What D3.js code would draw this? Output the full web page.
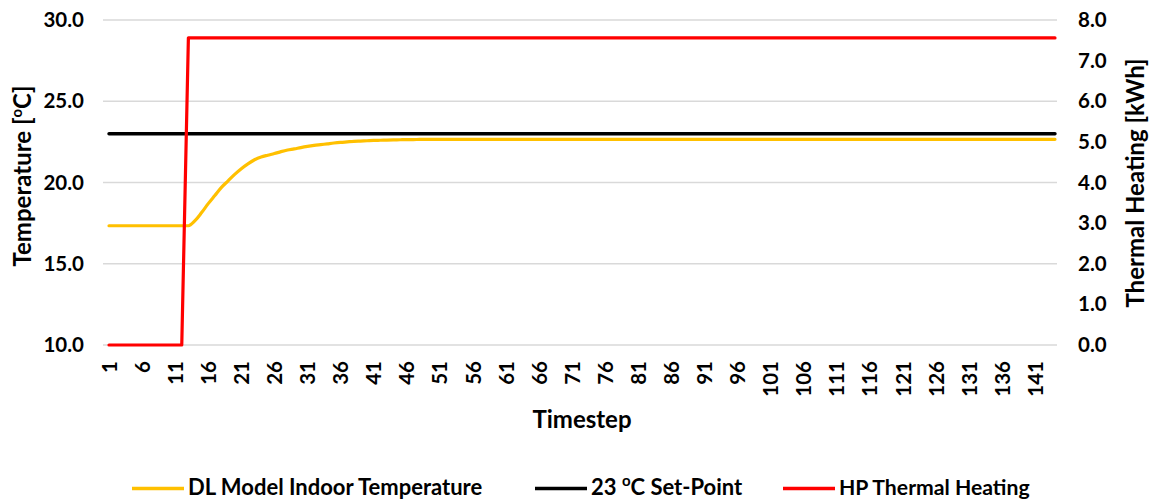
<!DOCTYPE html>
<html><head><meta charset="utf-8">
<script src="https://cdn.jsdelivr.net/npm/d3@7"></script>
<style>
html,body{margin:0;padding:0;background:#fff;}
text{font-family:Lato,"Open Sans",sans-serif;font-weight:bold;fill:#000;}
</style></head><body>
<svg id="chart" width="1151" height="499"></svg>
<script>
const categories = d3.range(1, 145);
const xTickLabels = [1,6,11,16,21,26,31,36,41,46,51,56,61,66,71,76,81,86,91,96,101,106,111,116,121,126,131,136,141];
const leftTicks = [10,15,20,25,30];
const rightTicks = [0,1,2,3,4,5,6,7,8];
const seriesNames = ["DL Model Indoor Temperature","23 oC Set-Point","HP Thermal Heating"];

const indoorTemp = [
 17.34,17.34,17.34,17.34,17.34,17.34,17.34,17.34,17.34,17.34,
 17.34,17.34,17.34,17.65,18.15,18.7,19.2,19.7,20.1,20.5,
 20.85,21.15,21.4,21.57,21.68,21.78,21.9,22.0,22.07,22.15,
 22.22,22.28,22.33,22.38,22.43,22.47,22.5,22.53,22.55,22.57,
 22.59,22.6,22.61,22.62,22.63,22.64,22.64,22.65,22.65,22.66,
 22.66,22.66,22.66,22.66,22.66,22.66,22.66,22.66,22.66,22.66,
 22.66,22.66,22.66,22.66,22.66,22.66,22.66,22.66,22.66,22.66,
 22.66,22.66,22.66,22.66,22.66,22.66,22.66,22.66,22.66,22.66,
 22.66,22.66,22.66,22.66,22.66,22.66,22.66,22.66,22.66,22.66,
 22.66,22.66,22.66,22.66,22.66,22.66,22.66,22.66,22.66,22.66,
 22.66,22.66,22.66,22.66,22.66,22.66,22.66,22.66,22.66,22.66,
 22.66,22.66,22.66,22.66,22.66,22.66,22.66,22.66,22.66,22.66,
 22.66,22.66,22.66,22.66,22.66,22.66,22.66,22.66,22.66,22.66,
 22.66,22.66,22.66,22.66,22.66,22.66,22.66,22.66,22.66,22.66,
 22.66,22.66,22.66,22.66
];
const setPoint = [
 23,23,23,23,23,23,23,23,23,23, 23,23,23,23,23,23,23,23,23,23,
 23,23,23,23,23,23,23,23,23,23, 23,23,23,23,23,23,23,23,23,23,
 23,23,23,23,23,23,23,23,23,23, 23,23,23,23,23,23,23,23,23,23,
 23,23,23,23,23,23,23,23,23,23, 23,23,23,23,23,23,23,23,23,23,
 23,23,23,23,23,23,23,23,23,23, 23,23,23,23,23,23,23,23,23,23,
 23,23,23,23,23,23,23,23,23,23, 23,23,23,23,23,23,23,23,23,23,
 23,23,23,23,23,23,23,23,23,23, 23,23,23,23,23,23,23,23,23,23,
 23,23,23,23
];
const hpHeating = [
 0,0,0,0,0,0,0,0,0,0, 0,0,7.56,7.56,7.56,7.56,7.56,7.56,7.56,7.56,
 7.56,7.56,7.56,7.56,7.56,7.56,7.56,7.56,7.56,7.56, 7.56,7.56,7.56,7.56,7.56,7.56,7.56,7.56,7.56,7.56,
 7.56,7.56,7.56,7.56,7.56,7.56,7.56,7.56,7.56,7.56, 7.56,7.56,7.56,7.56,7.56,7.56,7.56,7.56,7.56,7.56,
 7.56,7.56,7.56,7.56,7.56,7.56,7.56,7.56,7.56,7.56, 7.56,7.56,7.56,7.56,7.56,7.56,7.56,7.56,7.56,7.56,
 7.56,7.56,7.56,7.56,7.56,7.56,7.56,7.56,7.56,7.56, 7.56,7.56,7.56,7.56,7.56,7.56,7.56,7.56,7.56,7.56,
 7.56,7.56,7.56,7.56,7.56,7.56,7.56,7.56,7.56,7.56, 7.56,7.56,7.56,7.56,7.56,7.56,7.56,7.56,7.56,7.56,
 7.56,7.56,7.56,7.56,7.56,7.56,7.56,7.56,7.56,7.56, 7.56,7.56,7.56,7.56,7.56,7.56,7.56,7.56,7.56,7.56,
 7.56,7.56,7.56,7.56
];

const svg = d3.select("#chart");
const x = d3.scaleLinear().domain([1,144]).range([109,1055]);
const yL = d3.scaleLinear().domain([10,30]).range([345,20]);
const yR = d3.scaleLinear().domain([0,8]).range([345,20]);
const tickFont = 20.5;

// gridlines
svg.append("g").selectAll("line").data(leftTicks).join("line")
  .attr("x1",103).attr("x2",1057)
  .attr("y1",d=>yL(d)).attr("y2",d=>yL(d))
  .attr("stroke","#d9d9d9").attr("stroke-width",1.3);

// left axis
const axL = svg.append("g").attr("transform","translate(84,0)")
  .call(d3.axisLeft(yL).tickValues(leftTicks).tickFormat(d3.format(".1f")).tickSize(0).tickPadding(0));
axL.select(".domain").remove();
axL.selectAll("text").attr("font-size",tickFont).attr("font-family","Lato").attr("font-weight","bold").attr("fill","#000");

// right axis
const axR = svg.append("g").attr("transform","translate(1078,0)")
  .call(d3.axisRight(yR).tickValues(rightTicks).tickFormat(d3.format(".1f")).tickSize(0).tickPadding(0));
axR.select(".domain").remove();
axR.selectAll("text").attr("font-size",tickFont).attr("font-family","Lato").attr("font-weight","bold").attr("fill","#000");

// x axis labels
const axX = svg.append("g").attr("transform","translate(0,361)")
  .call(d3.axisBottom(x).tickValues(xTickLabels).tickFormat(d=>d).tickSize(0).tickPadding(0));
axX.select(".domain").remove();
axX.selectAll("text")
  .attr("font-size",tickFont).attr("font-family","Lato").attr("font-weight","bold").attr("fill","#000")
  .attr("text-anchor","end").attr("transform","rotate(-90)")
  .attr("x",0).attr("y",0).attr("dy","0.35em");

// lines
const lineL = d3.line().x((d,i)=>x(categories[i])).y(d=>yL(d));
const lineLs = d3.line().x((d,i)=>x(categories[i])).y(d=>yL(d)).curve(d3.curveMonotoneX);
const lineR = d3.line().x((d,i)=>x(categories[i])).y(d=>yR(d));

svg.append("path").datum(indoorTemp).attr("d",lineLs)
  .attr("fill","none").attr("stroke","#FFC000").attr("stroke-width",3.2).attr("stroke-linecap","round").attr("stroke-linejoin","round");
svg.append("path").datum(setPoint).attr("d",lineL)
  .attr("fill","none").attr("stroke","#000").attr("stroke-width",3.4).attr("stroke-linecap","round");
svg.append("path").datum(hpHeating).attr("d",lineR)
  .attr("fill","none").attr("stroke","#FF0000").attr("stroke-width",3.2).attr("stroke-linecap","round").attr("stroke-linejoin","round");

// axis titles
svg.append("text").attr("x",582).attr("y",428).attr("text-anchor","middle")
  .attr("font-size",24).text("Timestep");

const tl = svg.append("text").attr("transform","translate(31,176) rotate(-90)")
  .attr("text-anchor","middle").attr("font-size",24);
tl.append("tspan").text("Temperature [");
tl.append("tspan").attr("font-size",15).attr("dy",-9).text("o");
tl.append("tspan").attr("dy",9).text("C]");

svg.append("text").attr("transform","translate(1144,183) rotate(-90)")
  .attr("text-anchor","middle").attr("font-size",24).text("Thermal Heating [kWh]");

// legend
const legendColors = ["#FFC000","#000","#FF0000"];
const legendLineX = [132,535,783];
const legendFont = [22,22,21.2];
const lg = svg.append("g");
seriesNames.forEach((name,i)=>{
  lg.append("line").attr("x1",legendLineX[i]).attr("x2",legendLineX[i]+52)
    .attr("y1",488.5).attr("y2",488.5).attr("stroke",legendColors[i]).attr("stroke-width",3.4);
  const t = lg.append("text").attr("x",legendLineX[i]+56).attr("y",494.5).attr("font-size",legendFont[i]);
  if(i===1){
    t.append("tspan").text("23 ");
    t.append("tspan").attr("font-size",15).attr("dy",-9).text("o");
    t.append("tspan").attr("dy",9).text("C Set-Point");
  } else {
    t.text(name);
  }
});
</script></body></html>
